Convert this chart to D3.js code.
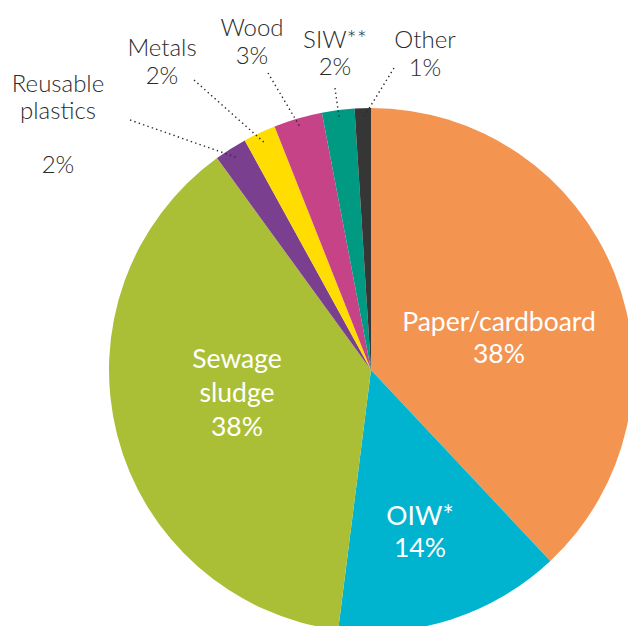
<!DOCTYPE html>
<html>
<head>
<meta charset="utf-8">
<script src="https://cdn.jsdelivr.net/npm/d3@7"></script>
<style>
  html, body { margin: 0; padding: 0; background: #fff; }
  svg { display: block; }
  text { font-family: Lato, "Open Sans", "Noto Sans", sans-serif; }
</style>
</head>
<body>
<svg id="chart" width="628" height="626"></svg>
<script>
// Waste composition shares (%), clockwise from 12 o'clock
const categories = ["Paper/cardboard", "OIW*", "Sewage sludge", "Reusable plastics", "Metals", "Wood", "SIW**", "Other"];
const shares = [38, 14, 38, 2, 2, 3, 2, 1];
const colors = ["#F39451", "#00B4D0", "#AABF35", "#7B3F8F", "#FFDD00", "#C54386", "#009A82", "#363636"];

// Label text lines for each slice
const labelLines = [
  ["Paper/cardboard", "38%"],
  ["OIW*", "14%"],
  ["Sewage", "sludge", "38%"],
  ["Reusable", "plastics", "", "2%"],
  ["Metals", "2%"],
  ["Wood", "3%"],
  ["SIW**", "2%"],
  ["Other", "1%"]
];

// Label placement: big slices carry their label inside, thin slices get outside text + leader line
const labelLayout = [
  { inside: true, x: 499, y: 331, lh: 32 },
  { inside: true, x: 420, y: 525, lh: 32 },
  { inside: true, x: 237, y: 368, lh: 34 },
  { inside: false, x: 58, y: 92, lh: 27, lx: 130, ly: 120 },
  { inside: false, x: 162, y: 56, lh: 27.5, lx: 194, ly: 80 },
  { inside: false, x: 252, y: 36, lh: 27.5, lx: 268, ly: 73 },
  { inside: false, x: 335, y: 47.5, lh: 27.5, lx: 335, ly: 88 },
  { inside: false, x: 425, y: 48, lh: 27.5, lx: 394, ly: 68 }
];

const svg = d3.select("#chart");
const cx = 371, cy = 370, radius = 262;

const data = categories.map((c, i) => ({ name: c, value: shares[i], color: colors[i], lines: labelLines[i], layout: labelLayout[i] }));

const pie = d3.pie().value(d => d.value).sort(null);
const arcs = pie(data);
const arc = d3.arc().innerRadius(0).outerRadius(radius);
const leaderArc = d3.arc().innerRadius(252).outerRadius(252);

const g = svg.append("g").attr("transform", `translate(${cx},${cy})`);

g.selectAll("path.slice")
  .data(arcs)
  .enter().append("path")
  .attr("class", "slice")
  .attr("d", arc)
  .attr("fill", d => d.data.color);

// Leader lines for the thin slices
arcs.filter(d => !d.data.layout.inside).forEach(d => {
  const [ex, ey] = leaderArc.centroid(d);
  svg.append("line")
    .attr("x1", d.data.layout.lx).attr("y1", d.data.layout.ly)
    .attr("x2", cx + ex).attr("y2", cy + ey)
    .attr("stroke", "#2a2a2a")
    .attr("stroke-width", 1.4)
    .attr("stroke-dasharray", "1.4,3.2");
});

// Labels
arcs.forEach(d => {
  const L = d.data.layout;
  const t = svg.append("text")
    .attr("text-anchor", "middle")
    .attr("font-size", L.inside ? 26.5 : 24)
    .attr("font-weight", L.inside ? 400 : 300)
    .attr("fill", L.inside ? "#ffffff" : "#2b2b2b");
  d.data.lines.forEach((line, i) => {
    t.append("tspan")
      .attr("x", L.x)
      .attr("y", L.y + i * L.lh)
      .text(line);
  });
});
</script>
</body>
</html>
